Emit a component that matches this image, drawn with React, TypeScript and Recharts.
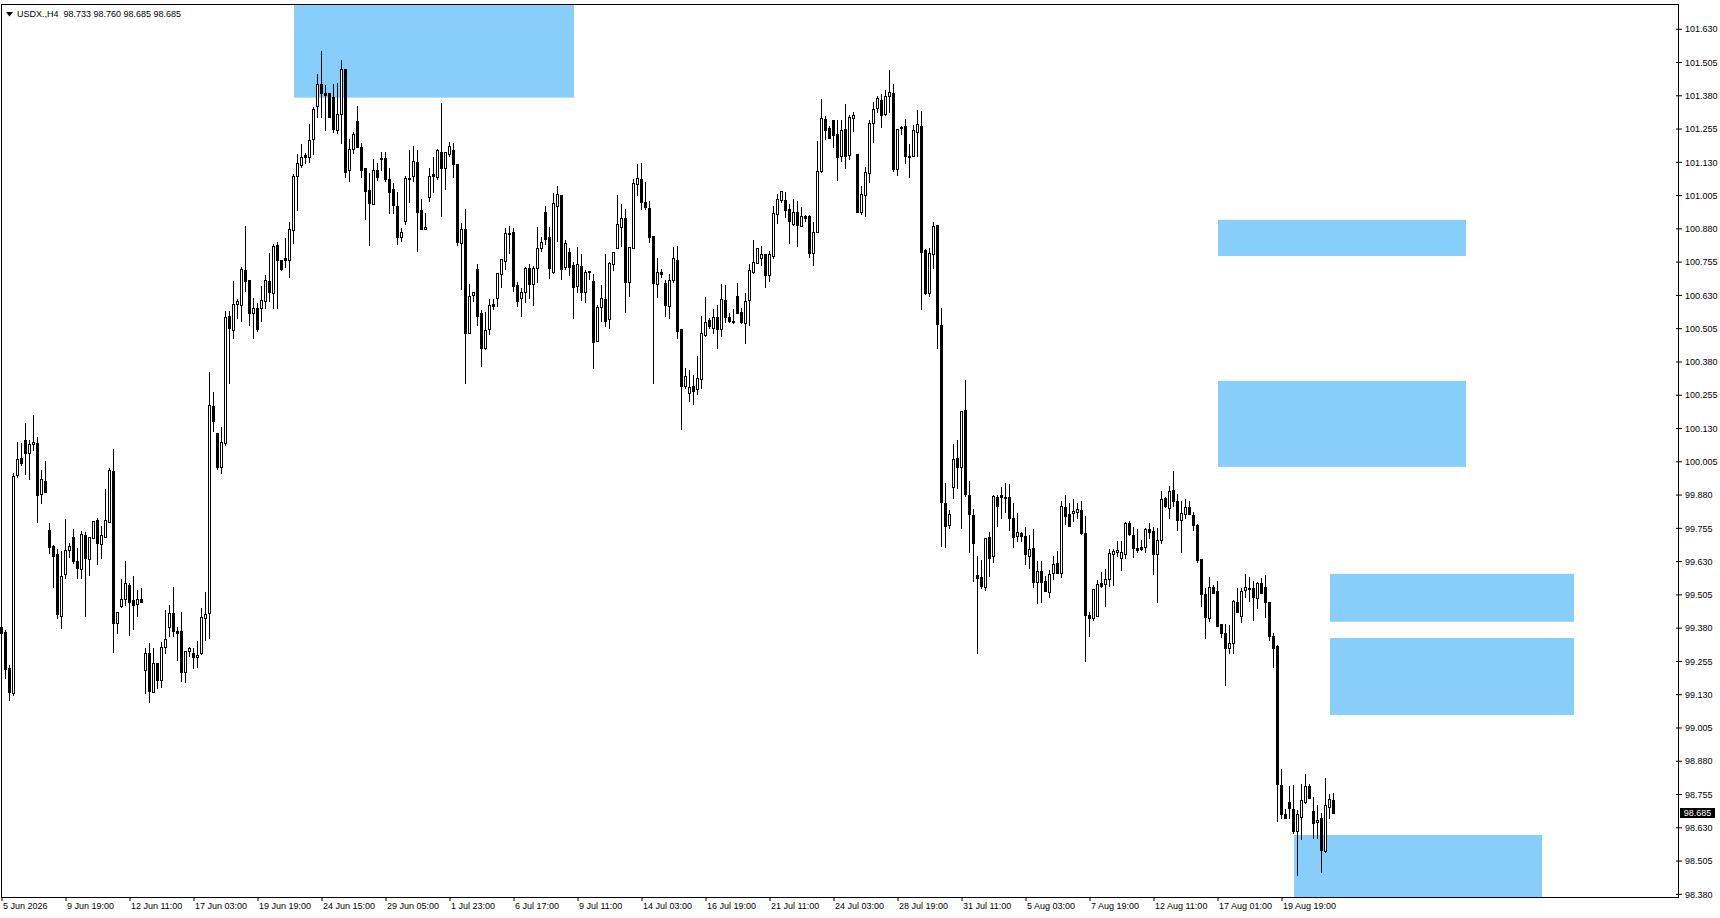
import React from "react";
import { Bar, ComposedChart, ReferenceArea, ReferenceLine, XAxis, YAxis } from "recharts";

const SYMBOL = "USDX.,H4";
// last bar as shown in the header: open, high, low, close
const lastQuote = [98.733, 98.76, 98.685, 98.685];

// H4 bars: [open, high, low, close]
const ohlc: [number, number, number, number][] = [
  [99.385, 99.419, 99.336, 99.362], [99.365, 99.373, 99.193, 99.227], [99.231, 99.242, 99.111, 99.14], [99.137, 99.964, 99.129, 99.952],
  [99.956, 100.079, 99.949, 100.016], [100.02, 100.076, 99.993, 100.001], [100.087, 100.151, 99.96, 100.039], [100.039, 100.087, 99.941, 100.072],
  [100.072, 100.181, 100.05, 100.079], [100.076, 100.099, 99.779, 99.88], [99.884, 99.975, 99.851, 99.941], [99.933, 100.008, 99.891, 99.891],
  [99.749, 99.776, 99.663, 99.686], [99.689, 99.693, 99.535, 99.651], [99.659, 99.678, 99.419, 99.434], [99.426, 99.67, 99.381, 99.576],
  [99.584, 99.79, 99.569, 99.674], [99.674, 99.701, 99.648, 99.689], [99.723, 99.753, 99.625, 99.633], [99.633, 99.682, 99.569, 99.606],
  [99.602, 99.745, 99.569, 99.734], [99.73, 99.741, 99.426, 99.644], [99.64, 99.723, 99.58, 99.723], [99.719, 99.783, 99.719, 99.783],
  [99.787, 99.794, 99.621, 99.701], [99.697, 99.764, 99.644, 99.73], [99.723, 99.903, 99.723, 99.787], [99.779, 99.982, 99.779, 99.975],
  [99.971, 100.053, 99.29, 99.4], [99.4, 99.441, 99.362, 99.441], [99.463, 99.565, 99.46, 99.49], [99.49, 99.633, 99.467, 99.55],
  [99.542, 99.55, 99.354, 99.478], [99.486, 99.576, 99.377, 99.467], [99.471, 99.524, 99.426, 99.49], [99.49, 99.531, 99.478, 99.478],
  [99.223, 99.306, 99.137, 99.287], [99.287, 99.324, 99.103, 99.144], [99.14, 99.306, 99.14, 99.25], [99.25, 99.25, 99.156, 99.186],
  [99.186, 99.328, 99.159, 99.309], [99.309, 99.449, 99.287, 99.339], [99.385, 99.467, 99.351, 99.437], [99.437, 99.535, 99.351, 99.37],
  [99.37, 99.385, 99.261, 99.362], [99.37, 99.441, 99.182, 99.216], [99.216, 99.294, 99.178, 99.294], [99.294, 99.309, 99.276, 99.306],
  [99.287, 99.306, 99.231, 99.272], [99.272, 99.332, 99.235, 99.28], [99.287, 99.456, 99.283, 99.422], [99.419, 99.516, 99.336, 99.434],
  [99.437, 100.343, 99.343, 100.219], [100.215, 100.268, 100.121, 100.159], [100.113, 100.113, 99.978, 99.986], [99.986, 100.136, 99.964, 100.079],
  [100.076, 100.572, 100.068, 100.549], [100.553, 100.572, 100.301, 100.508], [100.5, 100.684, 100.47, 100.598], [100.598, 100.617, 100.545, 100.609],
  [100.594, 100.737, 100.534, 100.729], [100.726, 100.891, 100.647, 100.684], [100.688, 100.688, 100.519, 100.564], [100.564, 100.62, 100.47, 100.583],
  [100.583, 100.602, 100.497, 100.504], [100.583, 100.666, 100.534, 100.613], [100.609, 100.707, 100.583, 100.688], [100.684, 100.79, 100.609, 100.643],
  [100.639, 100.823, 100.583, 100.816], [100.82, 100.831, 100.583, 100.763], [100.763, 100.763, 100.726, 100.729], [100.771, 100.846, 100.737, 100.763],
  [100.763, 100.906, 100.699, 100.88], [100.876, 101.086, 100.827, 101.079], [101.079, 101.161, 100.951, 101.128], [101.12, 101.199, 101.113, 101.15],
  [101.158, 101.165, 101.128, 101.15], [101.15, 101.274, 101.131, 101.214], [101.218, 101.338, 101.161, 101.33], [101.342, 101.462, 101.3, 101.424],
  [101.424, 101.548, 101.3, 101.391], [101.391, 101.421, 101.252, 101.383], [101.391, 101.391, 101.3, 101.3], [101.376, 101.424, 101.244, 101.255],
  [101.252, 101.428, 101.24, 101.312], [101.312, 101.515, 101.203, 101.481], [101.481, 101.481, 101.075, 101.094], [101.101, 101.218, 101.06, 101.18],
  [101.18, 101.244, 101.165, 101.237], [101.285, 101.342, 101.188, 101.188], [101.188, 101.203, 101.075, 101.101], [101.109, 101.109, 100.917, 101.023],
  [101.026, 101.09, 100.82, 100.977], [100.974, 101.143, 100.974, 101.101], [101.101, 101.128, 101.064, 101.075], [101.146, 101.169, 101.101, 101.143],
  [101.146, 101.169, 101.06, 101.068], [101.068, 101.109, 100.94, 101.019], [101.03, 101.053, 100.94, 100.97], [100.966, 101.019, 100.823, 100.85],
  [100.85, 100.884, 100.835, 100.869], [100.91, 101.079, 100.899, 101.071], [101.068, 101.176, 100.981, 101.071], [101.079, 101.191, 101.06, 101.135],
  [101.131, 101.176, 100.797, 100.944], [100.951, 100.992, 100.88, 100.88], [100.88, 100.94, 100.88, 100.887], [101.0, 101.109, 100.985, 101.079],
  [101.086, 101.15, 101.019, 101.079], [101.075, 101.18, 101.068, 101.176], [101.169, 101.353, 100.929, 101.109], [101.109, 101.169, 101.03, 101.169],
  [101.161, 101.206, 101.154, 101.191], [101.176, 101.203, 101.075, 101.124], [101.124, 101.124, 100.82, 100.831], [100.827, 100.902, 100.654, 100.88],
  [100.88, 100.955, 100.301, 100.489], [100.489, 100.673, 100.489, 100.628], [100.632, 100.643, 100.609, 100.643], [100.729, 100.748, 100.519, 100.553],
  [100.564, 100.575, 100.365, 100.433], [100.433, 100.568, 100.429, 100.5], [100.504, 100.617, 100.485, 100.594], [100.598, 100.617, 100.579, 100.59],
  [100.62, 100.714, 100.59, 100.714], [100.711, 100.767, 100.662, 100.767], [100.759, 100.884, 100.729, 100.865], [100.861, 100.891, 100.79, 100.865],
  [100.869, 100.884, 100.647, 100.666], [100.669, 100.681, 100.59, 100.609], [100.62, 100.658, 100.553, 100.643], [100.643, 100.737, 100.605, 100.733],
  [100.733, 100.748, 100.62, 100.673], [100.673, 100.741, 100.594, 100.733], [100.733, 100.887, 100.681, 100.808], [100.808, 100.85, 100.797, 100.831],
  [100.944, 100.966, 100.823, 100.842], [100.85, 100.887, 100.696, 100.733], [100.718, 101.015, 100.714, 100.977], [100.966, 101.041, 100.835, 101.011],
  [101.008, 101.008, 100.692, 100.729], [100.737, 100.838, 100.729, 100.827], [100.793, 100.808, 100.707, 100.737], [100.744, 100.756, 100.545, 100.662],
  [100.666, 100.812, 100.643, 100.748], [100.741, 100.786, 100.613, 100.643], [100.643, 100.726, 100.605, 100.718], [100.722, 100.722, 100.692, 100.718],
  [100.684, 100.711, 100.358, 100.455], [100.459, 100.594, 100.459, 100.587], [100.587, 100.669, 100.534, 100.62], [100.617, 100.786, 100.515, 100.534],
  [100.541, 100.756, 100.508, 100.752], [100.748, 100.793, 100.726, 100.793], [100.808, 101.008, 100.808, 100.899], [100.887, 100.974, 100.816, 100.921],
  [100.921, 100.955, 100.568, 100.681], [100.681, 100.812, 100.628, 100.812], [100.808, 101.068, 100.808, 101.053], [101.049, 101.124, 101.008, 101.071],
  [101.068, 101.128, 100.955, 100.981], [100.981, 101.056, 100.955, 100.962], [100.959, 100.985, 100.831, 100.85], [100.853, 100.853, 100.301, 100.677],
  [100.673, 100.771, 100.624, 100.718], [100.718, 100.729, 100.699, 100.711], [100.677, 100.688, 100.553, 100.594], [100.59, 100.711, 100.545, 100.688],
  [100.688, 100.812, 100.681, 100.771], [100.763, 100.816, 100.47, 100.497], [100.504, 100.504, 100.128, 100.29], [100.29, 100.357, 100.282, 100.327],
  [100.264, 100.35, 100.234, 100.286], [100.29, 100.331, 100.222, 100.271], [100.279, 100.403, 100.26, 100.32], [100.316, 100.553, 100.282, 100.489],
  [100.482, 100.624, 100.478, 100.53], [100.538, 100.545, 100.508, 100.515], [100.508, 100.579, 100.489, 100.549], [100.549, 100.594, 100.433, 100.504],
  [100.504, 100.673, 100.478, 100.617], [100.613, 100.669, 100.53, 100.549], [100.549, 100.564, 100.53, 100.534], [100.534, 100.579, 100.526, 100.53],
  [100.628, 100.677, 100.564, 100.564], [100.568, 100.583, 100.526, 100.53], [100.526, 100.639, 100.451, 100.609], [100.613, 100.748, 100.519, 100.726],
  [100.718, 100.838, 100.714, 100.756], [100.752, 100.808, 100.752, 100.808], [100.771, 100.816, 100.744, 100.786], [100.786, 100.786, 100.662, 100.707],
  [100.707, 100.797, 100.684, 100.786], [100.778, 100.966, 100.771, 100.94], [100.936, 101.011, 100.902, 100.992], [100.989, 101.023, 100.981, 101.023],
  [100.989, 101.019, 100.925, 100.951], [100.955, 100.974, 100.827, 100.91], [100.899, 100.992, 100.895, 100.944], [100.944, 100.985, 100.816, 100.895],
  [100.891, 100.962, 100.891, 100.929], [100.929, 100.932, 100.91, 100.921], [100.929, 100.932, 100.774, 100.79], [100.79, 100.906, 100.744, 100.869],
  [100.869, 101.21, 100.869, 101.098], [101.098, 101.368, 101.094, 101.297], [101.293, 101.304, 101.218, 101.252], [101.259, 101.267, 101.222, 101.222],
  [101.289, 101.289, 101.188, 101.233], [101.237, 101.289, 101.064, 101.15], [101.154, 101.289, 101.135, 101.252], [101.255, 101.349, 101.109, 101.154],
  [101.158, 101.308, 101.143, 101.3], [101.297, 101.319, 101.248, 101.308], [101.161, 101.161, 100.944, 100.944], [100.944, 101.041, 100.936, 101.011],
  [101.008, 101.113, 100.929, 101.094], [101.09, 101.289, 101.056, 101.278], [101.278, 101.357, 101.206, 101.33], [101.334, 101.379, 101.319, 101.372],
  [101.364, 101.387, 101.263, 101.308], [101.312, 101.402, 101.308, 101.379], [101.379, 101.477, 101.319, 101.394], [101.391, 101.424, 101.098, 101.105],
  [101.105, 101.255, 101.083, 101.255], [101.259, 101.267, 101.237, 101.263], [101.267, 101.293, 101.128, 101.154], [101.154, 101.199, 101.075, 101.15],
  [101.154, 101.27, 101.154, 101.252], [101.244, 101.327, 101.154, 101.274], [101.267, 101.323, 100.579, 100.793], [100.801, 100.805, 100.635, 100.639],
  [100.639, 100.808, 100.628, 100.79], [100.786, 100.906, 100.733, 100.891], [100.895, 100.895, 100.433, 100.523], [100.519, 100.583, 99.689, 99.854],
  [99.851, 99.926, 99.686, 99.764], [99.768, 99.824, 99.756, 99.809], [99.911, 100.072, 99.869, 100.016], [100.02, 100.087, 99.907, 99.986],
  [99.986, 100.196, 99.756, 100.196], [100.2, 100.312, 99.877, 99.884], [99.88, 99.933, 99.666, 99.809], [99.805, 99.828, 99.558, 99.701],
  [99.58, 99.651, 99.287, 99.569], [99.572, 99.636, 99.531, 99.539], [99.535, 99.719, 99.524, 99.719], [99.723, 99.741, 99.576, 99.644],
  [99.651, 99.88, 99.629, 99.877], [99.873, 99.88, 99.764, 99.839], [99.88, 99.911, 99.794, 99.873], [99.873, 99.926, 99.817, 99.869],
  [99.873, 99.922, 99.749, 99.794], [99.794, 99.851, 99.686, 99.723], [99.727, 99.813, 99.708, 99.741], [99.738, 99.741, 99.708, 99.727],
  [99.727, 99.76, 99.621, 99.659], [99.651, 99.73, 99.606, 99.678], [99.682, 99.753, 99.535, 99.554], [99.554, 99.633, 99.475, 99.595],
  [99.595, 99.633, 99.478, 99.554], [99.558, 99.576, 99.52, 99.52], [99.516, 99.599, 99.498, 99.584], [99.588, 99.651, 99.565, 99.621],
  [99.625, 99.67, 99.588, 99.588], [99.588, 99.858, 99.572, 99.839], [99.836, 99.88, 99.772, 99.802], [99.809, 99.851, 99.764, 99.764],
  [99.813, 99.866, 99.783, 99.82], [99.817, 99.851, 99.794, 99.828], [99.824, 99.858, 99.734, 99.738], [99.738, 99.802, 99.257, 99.43],
  [99.43, 99.441, 99.351, 99.419], [99.419, 99.527, 99.411, 99.527], [99.426, 99.561, 99.426, 99.546], [99.55, 99.591, 99.535, 99.539],
  [99.546, 99.602, 99.463, 99.565], [99.565, 99.678, 99.539, 99.663], [99.659, 99.678, 99.542, 99.67], [99.666, 99.708, 99.651, 99.674],
  [99.644, 99.708, 99.599, 99.666], [99.659, 99.779, 99.644, 99.776], [99.776, 99.783, 99.73, 99.734], [99.73, 99.76, 99.648, 99.682],
  [99.682, 99.753, 99.666, 99.674], [99.686, 99.712, 99.674, 99.678], [99.686, 99.756, 99.666, 99.753], [99.753, 99.776, 99.719, 99.741],
  [99.745, 99.76, 99.584, 99.659], [99.659, 99.756, 99.478, 99.712], [99.712, 99.896, 99.701, 99.866], [99.869, 99.873, 99.836, 99.839],
  [99.832, 99.914, 99.794, 99.896], [99.899, 99.971, 99.839, 99.858], [99.858, 99.884, 99.749, 99.787], [99.787, 99.858, 99.666, 99.813],
  [99.809, 99.866, 99.794, 99.836], [99.836, 99.858, 99.809, 99.809], [99.805, 99.817, 99.749, 99.768], [99.768, 99.772, 99.629, 99.636],
  [99.64, 99.64, 99.463, 99.509], [99.509, 99.531, 99.343, 99.422], [99.419, 99.572, 99.407, 99.535], [99.535, 99.542, 99.512, 99.512],
  [99.52, 99.558, 99.388, 99.388], [99.396, 99.396, 99.347, 99.362], [99.362, 99.396, 99.167, 99.306], [99.306, 99.392, 99.287, 99.324],
  [99.324, 99.486, 99.287, 99.482], [99.478, 99.531, 99.441, 99.441], [99.426, 99.531, 99.404, 99.52], [99.524, 99.584, 99.498, 99.535],
  [99.531, 99.572, 99.482, 99.527], [99.531, 99.558, 99.411, 99.498], [99.494, 99.554, 99.456, 99.55], [99.55, 99.569, 99.512, 99.512],
  [99.535, 99.58, 99.422, 99.478], [99.478, 99.478, 99.336, 99.351], [99.351, 99.362, 99.235, 99.306], [99.313, 99.317, 98.656, 98.795],
  [98.791, 98.851, 98.667, 98.682], [98.682, 98.701, 98.667, 98.667], [98.727, 98.787, 98.667, 98.705], [98.701, 98.791, 98.611, 98.618],
  [98.618, 98.697, 98.453, 98.682], [98.671, 98.795, 98.588, 98.735], [98.727, 98.833, 98.724, 98.787], [98.787, 98.795, 98.742, 98.742],
  [98.694, 98.746, 98.592, 98.648], [98.652, 98.716, 98.592, 98.66], [98.667, 98.686, 98.464, 98.547], [98.543, 98.818, 98.539, 98.716],
  [98.709, 98.757, 98.667, 98.739], [98.733, 98.76, 98.685, 98.685],
];

const timeLabels = [
  "5 Jun 2026", "9 Jun 19:00", "12 Jun 11:00", "17 Jun 03:00", "19 Jun 19:00", "24 Jun 15:00", "29 Jun 05:00",
  "1 Jul 23:00", "6 Jul 17:00", "9 Jul 11:00", "14 Jul 03:00", "16 Jul 19:00", "21 Jul 11:00", "24 Jul 03:00",
  "28 Jul 19:00", "31 Jul 11:00", "5 Aug 03:00", "7 Aug 19:00", "12 Aug 11:00", "17 Aug 01:00", "19 Aug 19:00",
];
const BARS_PER_LABEL = 16;

const priceTicks = [
  101.63, 101.505, 101.38, 101.255, 101.13, 101.005, 100.88, 100.755, 100.63, 100.505, 100.38, 100.255, 100.13,
  100.005, 99.88, 99.755, 99.63, 99.505, 99.38, 99.255, 99.13, 99.005, 98.88, 98.755, 98.63, 98.505, 98.38,
];
const priceDomain = [98.37, 101.721];

// drawn zones: bar index range (anchored on bar centres) and price range
const zones = [
  { from: 73, to: 143, top: 101.721, bottom: 101.373 },
  { from: 304, to: 366, top: 100.914, bottom: 100.778 },
  { from: 304, to: 366, top: 100.309, bottom: 99.986 },
  { from: 332, to: 393, top: 99.584, bottom: 99.404 },
  { from: 332, to: 393, top: 99.343, bottom: 99.054 },
  { from: 323, to: 385, top: 98.603, bottom: 98.37 },
];

// chart shift: empty slots to the right of the last bar
const SLOTS = 419;

const FONT = "'Liberation Sans', Arial, sans-serif";

const rows = Array.from({ length: SLOTS }, (_, i) => {
  const c = ohlc[i];
  return c ? { i, ohlc: c, range: [c[2], c[1]] } : { i };
});

const labelTicks = timeLabels.map((_, k) => k * BARS_PER_LABEL);

function Candle(props: any) {
  const { x, y, width, height, payload } = props;
  const c = payload?.ohlc;
  if (!c || !Number.isFinite(y)) return null;
  const [o, h, l, cl] = c;
  const k = h > l ? height / (h - l) : 0;
  const py = (p: number) => Math.round(y + (h - p) * k);
  const col = Math.round(x + width / 2) - 1;
  const top = py(Math.max(o, cl));
  const bot = py(Math.min(o, cl));
  const up = cl >= o;
  return (
    <g>
      <line x1={col + 0.5} x2={col + 0.5} y1={py(h)} y2={py(l) + 1} stroke="#000" strokeWidth={1} />
      {up ? (
        <rect x={col - 0.5} y={top + 0.5} width={2} height={Math.max(bot - top, 1)} fill="#fff" stroke="#000" strokeWidth={1} />
      ) : (
        <rect x={col - 1} y={top} width={3} height={Math.max(bot - top, 0) + 1} fill="#000" />
      )}
    </g>
  );
}

// the area spans whole bands; MT4 anchors the zone on bar centres
function Zone(props: any) {
  const { x, y, width, height } = props;
  if (![x, y, width, height].every(Number.isFinite)) return null;
  return <rect x={x + 2} y={y} width={Math.max(width - 4, 0)} height={height} fill="#87CEFA" />;
}

function TimeTick(props: any) {
  const { x, y, payload } = props;
  const label = timeLabels[Math.round(payload.value / BARS_PER_LABEL)];
  return (
    <text x={x + 1} y={y} dy="0.71em" textAnchor="start" fill="#000" fontSize={9} fontFamily={FONT}>
      {label}
    </text>
  );
}

function PriceTag(props: any) {
  const vb = props.viewBox;
  if (!vb) return null;
  const x = vb.x + vb.width + 4;
  const y = Math.round(vb.y);
  return (
    <g>
      <rect x={x} y={y - 5} width={35} height={10} fill="#000" />
      <text x={x + 17.5} y={y} dy="0.35em" textAnchor="middle" fill="#fff" fontSize={9} fontFamily={FONT}>
        {lastQuote[3].toFixed(3)}
      </text>
    </g>
  );
}

export default function App() {
  return (
    <div style={{ position: "absolute", left: 0, top: 0, width: 1720, height: 918, background: "#fff" }}>
      <ComposedChart
        width={1720}
        height={918}
        data={rows}
        margin={{ top: 5, right: 0, bottom: 0, left: 0 }}
        barCategoryGap={0}
      >
        <XAxis
          dataKey="i"
          type="category"
          ticks={labelTicks}
          interval={0}
          height={21}
          axisLine={false}
          tickLine={{ stroke: "#000" }}
          tickSize={4}
          tickMargin={2}
          tick={<TimeTick />}
        />
        <YAxis
          orientation="right"
          type="number"
          domain={priceDomain}
          allowDataOverflow
          ticks={priceTicks}
          interval={0}
          width={44}
          axisLine={false}
          tickLine={{ stroke: "#000" }}
          tickSize={6}
          tickMargin={3}
          tick={{ fill: "#000", fontSize: 9, fontFamily: FONT }}
          tickFormatter={(v: number) => v.toFixed(3)}
        />
        {zones.map((z, n) => (
          <ReferenceArea
            key={n}
            x1={z.from}
            x2={z.to}
            y1={z.bottom}
            y2={z.top}
            fill="#87CEFA"
            fillOpacity={1}
            stroke="none"
            ifOverflow="hidden"
            shape={<Zone />}
          />
        ))}
        <Bar dataKey="range" shape={<Candle />} isAnimationActive={false} />
        <ReferenceLine y={lastQuote[3]} stroke="#000" strokeOpacity={0} label={<PriceTag />} />
      </ComposedChart>
      <div
        style={{
          position: "absolute", left: 1, top: 4, width: 1678, height: 894,
          boxSizing: "border-box", border: "1px solid #000", pointerEvents: "none",
        }}
      />
      <div
        style={{
          position: "absolute", left: 6, top: 8, fontFamily: FONT, fontSize: 9, lineHeight: "12px",
          color: "#000", whiteSpace: "pre", display: "flex", alignItems: "center",
        }}
      >
        <svg width={7} height={5} style={{ marginRight: 4 }}>
          <polygon points="0,0 7,0 3.5,4.5" fill="#000" />
        </svg>
        {`${SYMBOL}  ${lastQuote.map((v) => v.toFixed(3)).join(" ")}`}
      </div>
    </div>
  );
}
